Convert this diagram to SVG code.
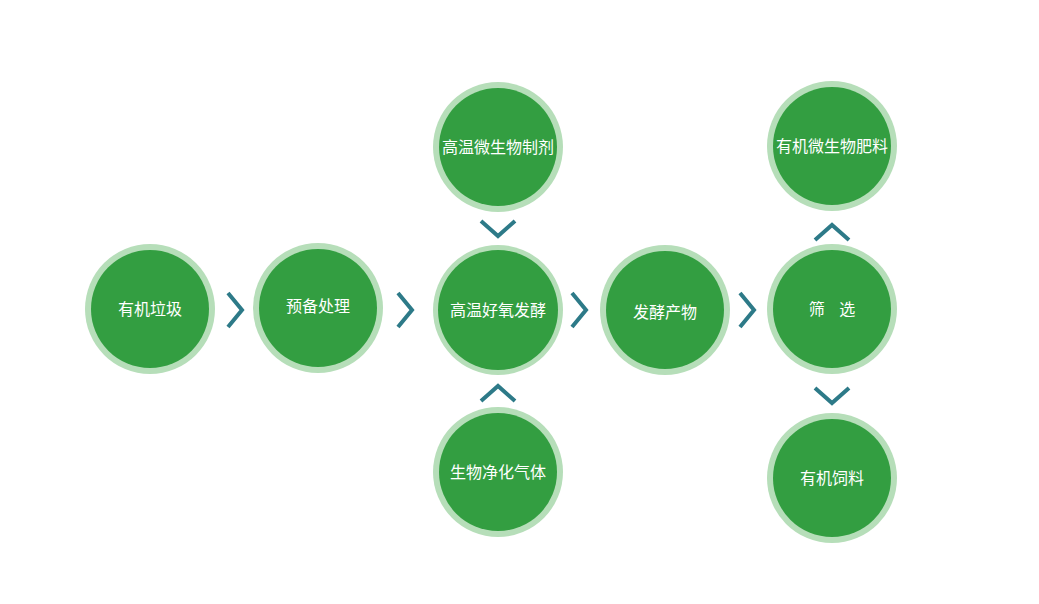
<svg xmlns="http://www.w3.org/2000/svg" width="1039" height="604" viewBox="0 0 1039 604">
<style>
.ring{fill:#b6deb9}
.core{fill:#339e41}
.t{font-family:"Noto Sans CJK SC",sans-serif;font-size:16px;fill:#fff;text-anchor:middle;dominant-baseline:central}
.ch{fill:none;stroke:#2d7a88;stroke-width:4}
</style>
<rect width="1039" height="604" fill="#fff"/>
<g id="n1"><circle class="ring" cx="150" cy="309" r="65"/><circle class="core" cx="150" cy="309" r="59"/><text class="t" x="150" y="308">有机垃圾</text></g>
<g id="n2"><circle class="ring" cx="318" cy="308" r="65"/><circle class="core" cx="318" cy="308" r="59"/><text class="t" x="318" y="305">预备处理</text></g>
<g id="n3"><circle class="ring" cx="498" cy="310" r="65"/><circle class="core" cx="498" cy="310" r="60"/><text class="t" x="498" y="309">高温好氧发酵</text></g>
<g id="n4"><circle class="ring" cx="498" cy="147" r="65"/><circle class="core" cx="498" cy="147" r="59"/><text class="t" x="498" y="146">高温微生物制剂</text></g>
<g id="n5"><circle class="ring" cx="498" cy="472" r="65"/><circle class="core" cx="498" cy="472" r="59"/><text class="t" x="498" y="471">生物净化气体</text></g>
<g id="n6"><circle class="ring" cx="665" cy="310" r="65"/><circle class="core" cx="665" cy="310" r="59"/><text class="t" x="665" y="311">发酵产物</text></g>
<g id="n7"><circle class="ring" cx="832" cy="309" r="65"/><circle class="core" cx="832" cy="309" r="59"/><text class="t" x="832" y="308" xml:space="preserve">筛    选</text></g>
<g id="n8"><circle class="ring" cx="832" cy="146" r="65"/><circle class="core" cx="832" cy="146" r="59"/><text class="t" x="832" y="145">有机微生物肥料</text></g>
<g id="n9"><circle class="ring" cx="832" cy="478" r="65"/><circle class="core" cx="832" cy="478" r="59"/><text class="t" x="832" y="477">有机饲料</text></g>
<g id="connectors">
<polyline class="ch" points="228,293 242,310 228,327"/>
<polyline class="ch" points="398,293 412,310 398,327"/>
<polyline class="ch" points="572,293 586,310 572,327"/>
<polyline class="ch" points="740,293 754,310 740,327"/>
<polyline class="ch" points="481,221 498,236 515,221"/>
<polyline class="ch" points="481,401 498,386 515,401"/>
<polyline class="ch" points="815,240 832,225 849,240"/>
<polyline class="ch" points="815,388 832,403 849,388"/>
</g>
</svg>
